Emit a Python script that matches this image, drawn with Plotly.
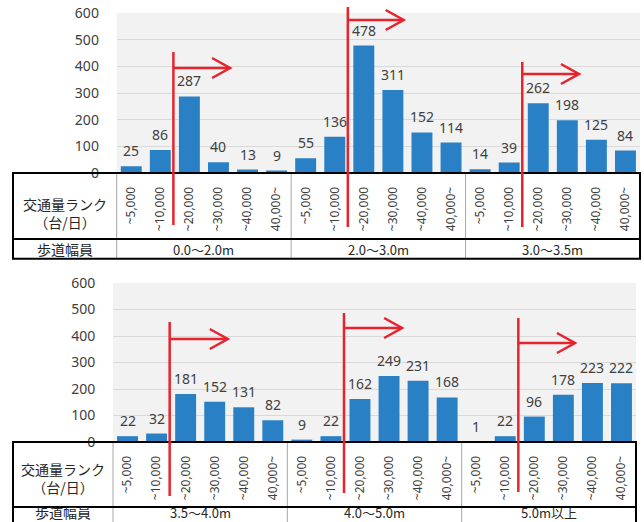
import plotly.graph_objects as go

# ---- data -------------------------------------------------------------
ranks = ["~5,000", "~10,000", "~20,000", "~30,000", "~40,000", "40,000~"]

widths_top = ["0.0〜2.0m", "2.0〜3.0m", "3.0〜3.5m"]
counts_top = [25, 86, 287, 40, 13, 9,
              55, 136, 478, 311, 152, 114,
              14, 39, 262, 198, 125, 84]

widths_bottom = ["3.5〜4.0m", "4.0〜5.0m", "5.0m以上"]
counts_bottom = [22, 32, 181, 152, 131, 82,
                 9, 22, 162, 249, 231, 168,
                 1, 22, 96, 178, 223, 222]

row_label_rank = "交通量ランク<br>（台/日）"
row_label_width = "歩道幅員"

# ---- page geometry (pixels) -------------------------------------------
W, H = 644, 522
BAR = "#2a80c4"
RED = "#e8232c"
TXT = "#404040"
NUM_FONT = "Noto Sans"
JP_FONT = "Noto Sans CJK JP"


def px(x):
    return x / W


def py(y):
    return 1 - y / H


panels = [
    dict(counts=counts_top, widths=widths_top, ax="", left=116.7, right=640,
         y0=173, y600=13, tbl_left=13, tbl_bottom=258.7, split=239,
         rank_y=213, width_y=249,
         arrows=[(1.45, 52, 225, 68, 3.40), (7.45, 7, 227, 20, 9.37),
                 (13.45, 62, 227, 74, 15.40)]),
    dict(counts=counts_bottom, widths=widths_bottom, ax="2", left=113, right=636,
         y0=442, y600=283, tbl_left=13, tbl_bottom=530, split=507,
         rank_y=478, width_y=512,
         arrows=[(1.45, 322, 496, 339, 3.45), (7.45, 313, 493, 328, 9.45),
                 (13.45, 318, 492, 343, 15.40)]),
]

fig = go.Figure()
shapes = []
annotations = []
n = len(ranks) * 3

for p in panels:
    xa = "x" + p["ax"]
    ya = "y" + p["ax"]
    xs = list(range(n))
    fig.add_trace(go.Bar(x=xs, y=p["counts"], width=0.72, marker_color=BAR,
                         marker_line_width=0, xaxis=xa, yaxis=ya,
                         showlegend=False, hoverinfo="skip"))

    # value labels above the bars
    for i, v in zip(xs, p["counts"]):
        annotations.append(dict(x=i, y=v, xref=xa, yref=ya, text=str(v),
                                showarrow=False, xanchor="center",
                                yanchor="bottom", yshift=4,
                                font=dict(family=NUM_FONT, size=14, color=TXT)))

    axis_x = dict(domain=[px(p["left"]), px(p["right"])], range=[-0.5, n - 0.5],
                  tickmode="array", tickvals=xs, ticktext=ranks * 3,
                  tickangle=-90, ticks="outside", ticklen=8,
                  tickcolor="rgba(0,0,0,0)", showgrid=False, zeroline=False,
                  showline=False, anchor=ya, automargin=False,
                  tickfont=dict(family=NUM_FONT, size=12, color=TXT))
    axis_y = dict(domain=[py(p["y0"]), py(p["y600"])], range=[0, 600],
                  dtick=100, ticks="outside", ticklen=14,
                  tickcolor="rgba(0,0,0,0)", gridcolor="#d9d9d9",
                  zeroline=False, showline=False, anchor=xa, automargin=False,
                  tickfont=dict(family=NUM_FONT, size=14, color=TXT))
    fig.update_layout(**{"xaxis" + p["ax"]: axis_x, "yaxis" + p["ax"]: axis_y})

    # ---- category table under the chart ----
    L, R = p["tbl_left"], p["right"]
    T, B, S = p["y0"], p["tbl_bottom"], p["split"]
    gray = dict(color="#a6a6a6", width=1)
    black = dict(color="#000000", width=2)
    shapes.append(dict(type="line", xref="paper", yref="paper",
                       x0=px(p["left"]), x1=px(p["left"]), y0=py(T), y1=py(B),
                       line=gray, layer="above"))
    for g in (5.5, 11.5):
        shapes.append(dict(type="line", xref=xa, yref="paper", x0=g, x1=g,
                           y0=py(T), y1=py(B), line=gray, layer="above"))
    shapes.append(dict(type="rect", xref="paper", yref="paper",
                       x0=px(L), x1=px(R), y0=py(T), y1=py(B),
                       line=black, layer="above"))
    shapes.append(dict(type="line", xref="paper", yref="paper",
                       x0=px(L), x1=px(R), y0=py(S), y1=py(S),
                       line=black, layer="above"))

    mid_x = px((L + p["left"]) / 2)
    annotations.append(dict(x=mid_x, y=py(p["rank_y"]), xref="paper", yref="paper",
                            text=row_label_rank, showarrow=False,
                            xanchor="center", yanchor="middle",
                            font=dict(family=JP_FONT, size=14, color="#262626")))
    annotations.append(dict(x=mid_x, y=py(p["width_y"]), xref="paper", yref="paper",
                            text=row_label_width, showarrow=False,
                            xanchor="center", yanchor="middle",
                            font=dict(family=JP_FONT, size=14, color="#262626")))
    for k, label in enumerate(p["widths"]):
        annotations.append(dict(x=6 * k + 2.5, y=py(p["width_y"]), xref=xa,
                                yref="paper", text=label, showarrow=False,
                                xanchor="center", yanchor="middle",
                                font=dict(family=JP_FONT, size=13, color="#262626")))

    # ---- red threshold markers with right-pointing arrows ----
    red = dict(color=RED, width=2.5)
    slot = (p["right"] - p["left"]) / n
    for (x, vt, vb, hy, tip) in p["arrows"]:
        shapes.append(dict(type="line", xref=xa, yref="paper", x0=x, x1=x,
                           y0=py(vt), y1=py(vb), line=red, layer="above"))
        shapes.append(dict(type="line", xref=xa, yref="paper", x0=x, x1=tip,
                           y0=py(hy), y1=py(hy), line=red, layer="above"))
        back = tip - 18 / slot
        path = "M {a},{b} L {c},{d} L {a},{e}".format(
            a=back, b=py(hy - 10), c=tip, d=py(hy), e=py(hy + 10))
        shapes.append(dict(type="path", xref=xa, yref="paper", path=path,
                           line=red, layer="above"))

fig.update_layout(width=W, height=H,
                  margin=dict(l=0, r=0, t=0, b=0, pad=0, autoexpand=False),
                  paper_bgcolor="white", plot_bgcolor="#f2f2f2",
                  bargap=0.28, shapes=shapes, annotations=annotations)

fig.write_html("out.html")
